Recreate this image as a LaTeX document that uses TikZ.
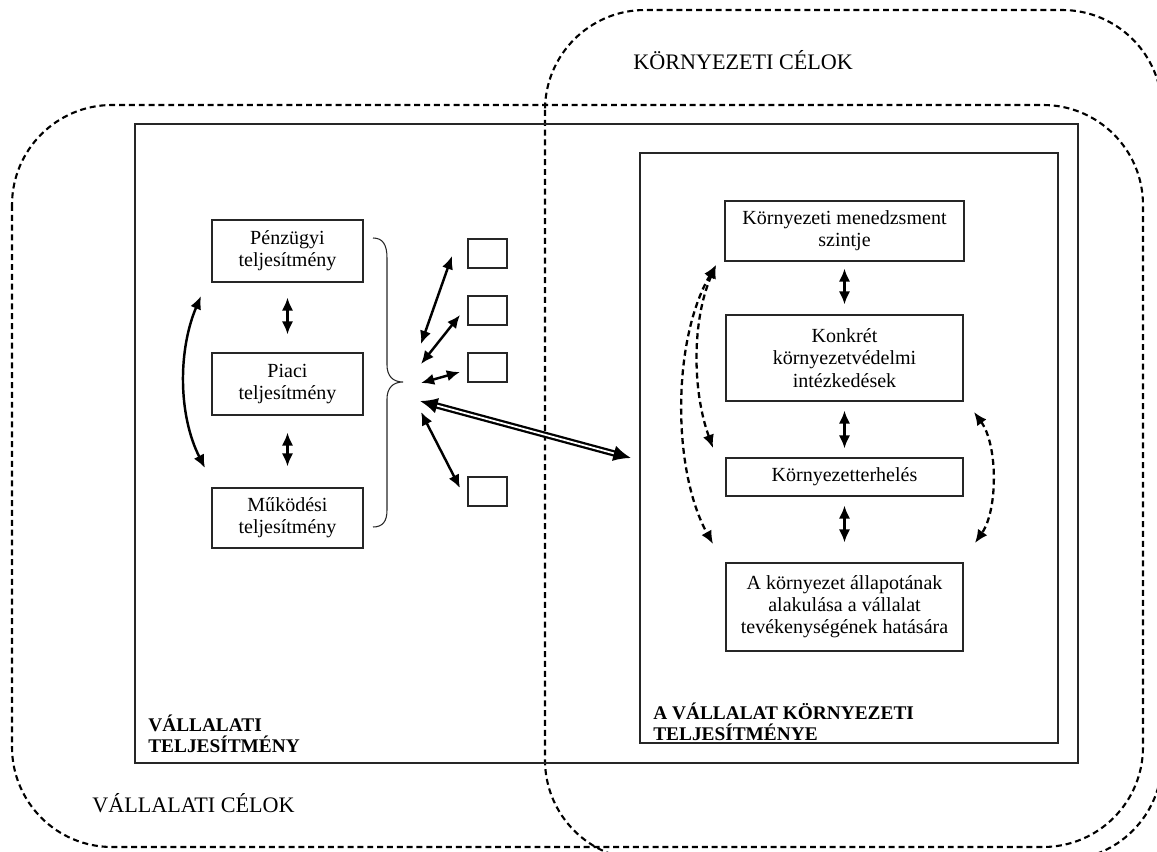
\documentclass[tikz,border=0pt]{standalone}
\usepackage{fontspec}
\setmainfont{Liberation Serif}
\usetikzlibrary{arrows.meta,calc}

\tikzset{
  frame/.style={draw=black!85, line width=0.6pt},
  goal/.style={draw=black, line width=1.2pt, dash pattern=on 3.4pt off 2.2pt, rounded corners=2cm},
  box/.style={draw=black!85, line width=0.6pt, align=center, inner sep=0pt,
    font=\fontsize{11.4}{12.6}\selectfont},
  bw/.style={minimum width=#1*0.02cm},
  bh/.style={minimum height=#1*0.02cm},
  tinybox/.style={draw=black!85, line width=0.6pt, inner sep=0pt,
    minimum width=39*0.02cm, minimum height=29*0.02cm},
  title/.style={font=\fontsize{12.6}{14}\selectfont, inner sep=0pt, anchor=west},
  heading/.style={font=\bfseries\fontsize{11}{11.9}\selectfont, align=left, inner sep=0pt, anchor=north west},
  tip/.tip={Latex[length=7.5pt,width=6.5pt]},
  bigtip/.tip={Latex[length=10pt,width=9pt]},
  arr/.style={line width=1.4pt, tip-tip},
  darr/.style={arr, line width=1.3pt, dash pattern=on 3.4pt off 2.2pt},
}

\begin{document}
\begin{tikzpicture}[x=0.02cm, y=-0.02cm]
\useasboundingbox (0,0) rectangle (1157,852);
\clip (0,0) rectangle (1157,852);

% goal areas
\draw[goal] (12,105) rectangle (1143,847);
\draw[goal] (545,10) rectangle (1162,860);
\node[title] (kc) at (633,60) {KÖRNYEZETI CÉLOK};
\node[title] (vc) at (92,803) {VÁLLALATI CÉLOK};

% performance frames
\draw[frame] (135,124) rectangle (1078,763);
\draw[frame] (640,153) rectangle (1058,743);
\node[heading] (vt) at (148,715) {VÁLLALATI\\TELJESÍTMÉNY};
\node[heading] (kt) at (653,703) {A VÁLLALAT KÖRNYEZETI\\TELJESÍTMÉNYE};

% corporate performance boxes
\node[box, bw=151, bh=62] (p1) at (287.5,251) {Pénzügyi\\teljesítmény};
\node[box, bw=151, bh=62] (p2) at (287.5,384) {Piaci\\teljesítmény};
\node[box, bw=151, bh=60] (p3) at (287.5,518) {Működési\\teljesítmény};

\draw[arr, shorten <=15*0.02cm, shorten >=18*0.02cm] (p1) -- (p2);
\draw[arr, shorten <=17*0.02cm, shorten >=21*0.02cm] (p2) -- (p3);

\coordinate (lt) at (201,296);
\coordinate (lb) at (205,468);
\draw[arr] (lt) .. controls (178,350) and (178,415) .. (lb);

% brace
\draw[frame] (373,238) .. controls (383,238) and (387,245) .. (387,258)
  -- (387,365) .. controls (387,376) and (393,382) .. (403,382)
  .. controls (393,382) and (387,388) .. (387,399)
  -- (387,510) .. controls (387,521) and (383,527) .. (373,527);

% small boxes
\node[tinybox] (s1) at (487.5,253.5) {};
\node[tinybox] (s2) at (487.5,310.5) {};
\node[tinybox] (s3) at (487.5,367.5) {};
\node[tinybox] (s4) at (487.5,491.5) {};

\coordinate (f1) at (421,344);  \coordinate (g1) at (452,256);
\coordinate (f2) at (421,364);  \coordinate (g2) at (460,315);
\coordinate (f3) at (421,383);  \coordinate (g3) at (460,372);
\coordinate (f4) at (420,401);  \coordinate (g4) at (631,458);
\coordinate (f5) at (421,412);  \coordinate (g5) at (460,488);
\draw[arr] (f1) -- (g1);
\draw[arr] (f2) -- (g2);
\draw[arr] (f3) -- (g3);
\draw[arr] (f5) -- (g5);
\draw[line width=1.3pt, double, double distance=1pt, bigtip-bigtip] (f4) -- (g4);

% environmental performance boxes
\node[box, bw=239, bh=60] (k1) at (844.5,231) {Környezeti menedzsment\\szintje};
\node[box, bw=237, bh=86] (k2) at (844.5,358) {Konkrét\\környezetvédelmi\\intézkedések};
\node[box, bw=237, bh=38] (k3) at (844.5,477) {Környezetterhelés};
\node[box, bw=237, bh=88] (k4) at (844.5,607) {A környezet állapotának\\alakulása a vállalat\\tevékenységének hatására};

\draw[arr, shorten <=7*0.02cm, shorten >=10*0.02cm] (k1) -- (k2);
\draw[arr, shorten <=9*0.02cm, shorten >=9*0.02cm] (k2) -- (k3);
\draw[arr, shorten <=9*0.02cm, shorten >=20*0.02cm] (k3) -- (k4);

\coordinate (dt) at (716,265);
\coordinate (db1) at (713,448);
\coordinate (db2) at (713,544);
\coordinate (rt) at (974,412);
\coordinate (rb) at (975,543);
\draw[darr] (dt) .. controls (692,320) and (692,390) .. (db1);
\draw[darr] (dt) .. controls (672,340) and (672,470) .. (db2);
\draw[darr] (rt) .. controls (998,445) and (998,510) .. (rb);
\end{tikzpicture}
\end{document}
